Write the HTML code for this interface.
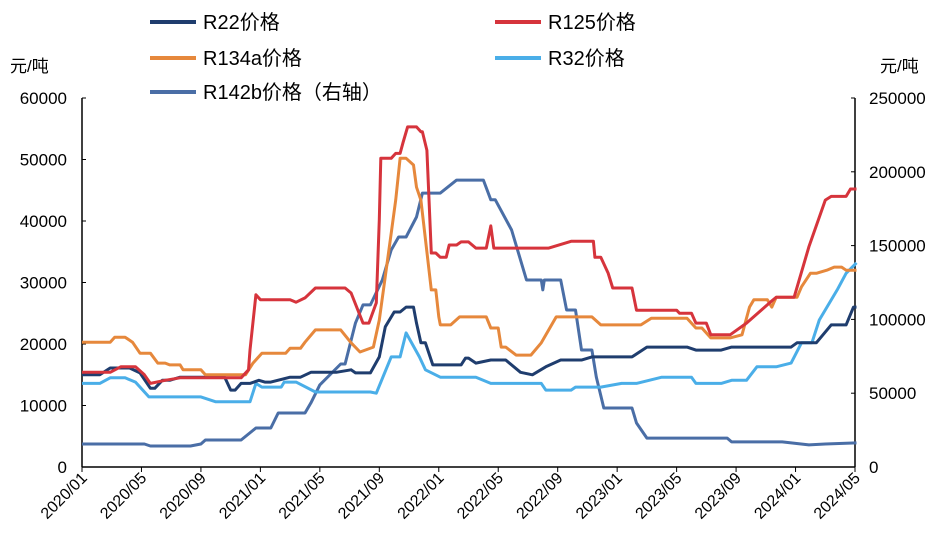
<!DOCTYPE html>
<html><head><meta charset="utf-8"><style>
body{margin:0;background:#fff;}
svg text{font-family:"Liberation Sans","Noto Sans CJK SC",sans-serif;}
</style></head><body>
<svg id="c" width="946" height="555"></svg>
<script>
const xTickLabels=["2020/01","2020/05","2020/09","2021/01","2021/05","2021/09","2022/01","2022/05","2022/09","2023/01","2023/05","2023/09","2024/01","2024/05"];
const leftTicks=[0,10000,20000,30000,40000,50000,60000];
const rightTicks=[0,50000,100000,150000,200000,250000];
const r22=[[0,15000],[1.2,15000],[1.9,16100],[3.2,16100],[3.9,15300],[4.6,12800],[4.9,12800],[5.4,14100],[5.9,14100],[6.6,14600],[9.6,14600],[10,12500],[10.3,12500],[10.7,13600],[11.3,13600],[11.9,14100],[12.3,13800],[12.7,13800],[14,14600],[14.7,14600],[15.4,15400],[17.1,15400],[18.1,15800],[18.4,15300],[19.4,15300],[20,17900],[20.4,22800],[21,25200],[21.4,25200],[21.8,26000],[22.3,26000],[22.5,23400],[22.8,20200],[23.1,20200],[23.6,16600],[25.5,16600],[25.8,17700],[26,17700],[26.5,16900],[27.5,17400],[28.5,17400],[29.5,15400],[30.3,15000],[31.2,16300],[32.2,17400],[33.6,17400],[34.3,17900],[37,17900],[38,19500],[40.7,19500],[41.3,19000],[43,19000],[43.7,19500],[47.7,19500],[48.1,20200],[49.4,20200],[50.4,23100],[51.4,23100],[51.9,26000],[52.1,26000]];
const r125=[[0,15400],[1.9,15400],[2.6,16300],[3.6,16300],[4.2,15000],[4.6,13600],[5.6,14100],[6.6,14500],[10.7,14500],[11.2,15800],[11.3,19000],[11.7,28000],[12,27200],[14,27200],[14.4,26800],[15,27500],[15.7,29100],[17.7,29100],[18.1,28300],[18.9,23400],[19.3,23400],[19.8,26700],[20,40200],[20.1,50200],[20.8,50200],[21.1,51000],[21.4,51000],[21.6,52800],[21.9,55300],[22.5,55300],[22.8,54500],[22.9,54500],[23.2,51500],[23.5,34800],[23.8,34800],[24.1,34100],[24.5,34100],[24.7,36100],[25.2,36100],[25.5,36600],[26,36600],[26.5,35600],[27.2,35600],[27.5,39200],[27.7,35600],[31.4,35600],[32.9,36700],[34.4,36700],[34.5,34100],[34.9,34100],[35.4,31500],[35.7,29100],[37,29100],[37.3,25500],[40,25500],[40.2,25000],[41,25000],[41.3,23400],[42,23400],[42.3,21500],[43.6,21500],[44.7,23400],[46.4,27000],[46.7,27600],[47.9,27600],[48.9,35800],[50,43400],[50.4,44000],[51.4,44000],[51.7,45200],[52.1,45200]];
const r134a=[[0,20300],[1.9,20300],[2.2,21100],[2.9,21100],[3.4,20300],[3.9,18500],[4.6,18500],[5.1,16900],[5.6,16900],[5.9,16600],[6.6,16600],[6.8,15800],[8,15800],[8.3,15000],[11,15000],[11.5,16900],[12.1,18500],[13.7,18500],[14,19300],[14.7,19300],[15,20300],[15.7,22300],[17.4,22300],[18.1,20200],[18.7,18700],[19.6,19500],[20,23900],[20.8,38000],[21.1,43400],[21.4,50200],[21.8,50200],[22.3,49100],[22.5,45500],[22.8,43400],[23.5,28800],[23.8,28800],[24,24400],[24.1,23100],[24.8,23100],[25.4,24400],[27.2,24400],[27.5,22600],[28,22600],[28.2,19500],[28.5,19500],[29.2,18200],[30.2,18200],[30.9,20200],[31.9,24400],[34.3,24400],[34.9,23100],[37.6,23100],[38.3,24200],[40.7,24200],[41.3,22600],[41.7,22600],[42.3,21000],[43.6,21000],[44.4,21500],[44.9,26000],[45.2,27200],[46.1,27200],[46.4,26000],[46.7,27600],[48.1,27600],[48.4,29300],[49,31500],[49.4,31500],[50.1,32000],[50.6,32500],[51.1,32500],[51.4,32000],[52.1,32000]];
const r32=[[0,13600],[1.2,13600],[1.9,14500],[2.9,14500],[3.6,13800],[4.5,11400],[8,11400],[9,10600],[11,10600],[11.3,10600],[11.7,13600],[12.1,13000],[13.4,13000],[13.6,13800],[14.4,13800],[15.7,12200],[19.4,12200],[19.8,12000],[20.8,17900],[21.4,17900],[21.8,21800],[22.7,17900],[23.1,15800],[24.1,14600],[25.5,14600],[26.5,14600],[27.5,13600],[30.9,13600],[31.2,12500],[32.9,12500],[33.2,13000],[34.9,13000],[36.3,13600],[37.3,13600],[39,14600],[41,14600],[41.3,13600],[43,13600],[43.7,14100],[44.7,14100],[45.4,16300],[46.7,16300],[47.7,16900],[48.4,20200],[49.1,20200],[49.6,23900],[50.8,28800],[51.4,31500],[52.1,33200]];
const r142b=[[0,15600],[4.2,15600],[4.6,14200],[7.3,14200],[8,15600],[8.3,18300],[10.7,18300],[11.7,26400],[12.7,26400],[13.2,36600],[15,36600],[15.4,43400],[16,55600],[17.4,69800],[17.7,69800],[18.4,97600],[18.9,109800],[19.4,109800],[20.2,126700],[20.8,147000],[21.3,155800],[21.8,155800],[22.5,169400],[22.9,185600],[24.1,185600],[25.2,194400],[27,194400],[27.5,181000],[27.8,181000],[28.9,160600],[29.9,126700],[30.9,126700],[31,120000],[31.1,126700],[32.2,126700],[32.6,106400],[33.2,106400],[33.6,79300],[34.3,79300],[34.6,61000],[35.1,40000],[37,40000],[37.3,29800],[38,19600],[43.4,19600],[43.7,17000],[47.1,17000],[47.7,16300],[48.9,15000],[50,15600],[52.1,16300]];

const svg=document.getElementById('c');const NS='http://www.w3.org/2000/svg';
const X0=82,X1=855,Y0=467,Y1=98,MONTHS=52;
const xs=m=>X0+m*(X1-X0)/MONTHS;
const yl=v=>Y0-v/60000*(Y0-Y1);
const yr=v=>Y0-v/250000*(Y0-Y1);
function mk(t,a,p){const e=document.createElementNS(NS,t);for(const k in a)e.setAttribute(k,a[k]);(p||svg).appendChild(e);return e;}
let e;
e=mk('line',{x1:X0,y1:Y1,x2:X0,y2:Y0,stroke:'#000','stroke-width':1.5});

e=mk('line',{x1:X1,y1:Y1,x2:X1,y2:Y0,stroke:'#000','stroke-width':1.5});

e=mk('line',{x1:X0,y1:Y0,x2:X1,y2:Y0,stroke:'#000','stroke-width':1.5});

leftTicks.forEach(v=>{mk('line',{x1:X0,x2:X0+4,y1:yl(v),y2:yl(v),stroke:'#000'});
 e=mk('text',{x:X0-15,y:yl(v)+6,'text-anchor':'end','font-size':17});e.textContent=v;
 });
rightTicks.forEach(v=>{mk('line',{x1:X1-4,x2:X1,y1:yr(v),y2:yr(v),stroke:'#000'});
 e=mk('text',{x:X1+14,y:yr(v)+6,'text-anchor':'start','font-size':17});e.textContent=v;
 });
xTickLabels.forEach((s,i)=>{const x=xs(i*4);mk('line',{x1:x,x2:x,y1:Y0,y2:Y0+5,stroke:'#000'});
 e=mk('text',{x:x+6,y:Y0+12,'text-anchor':'end','font-size':16,transform:`rotate(-45 ${x+6} ${Y0+12})`});e.textContent=s;
 });
function series(d,col,ax,name){const pts=d.map(p=>xs(p[0]).toFixed(1)+','+(ax==='r'?yr(p[1]):yl(p[1])).toFixed(1)).join(' ');
 const el=mk('polyline',{points:pts,fill:'none',stroke:col,'stroke-width':3,'stroke-linejoin':'round'});
 }
const C={r22:'#1f3d6e',r125:'#d6343c',r134a:'#e6883c',r32:'#4aaee8',r142b:'#4a6ea6'};
series(r142b,C.r142b,'r','r142b-line');
series(r32,C.r32,'l','r32-line');
series(r22,C.r22,'l','r22-line');
series(r134a,C.r134a,'l','r134a-line');
series(r125,C.r125,'l','r125-line');
function leg(x,y,col,txt,name){mk('line',{x1:x,x2:x+46,y1:y,y2:y,stroke:col,'stroke-width':4});
 e=mk('text',{x:x+53,y:y+7,'font-size':20});e.textContent=txt;
 }
leg(150,22,C.r22,'R22价格','legend-r22');
leg(495,22,C.r125,'R125价格','legend-r125');
leg(150,58,C.r134a,'R134a价格','legend-r134a');
leg(495,58,C.r32,'R32价格','legend-r32');
leg(150,92,C.r142b,'R142b价格（右轴）','legend-r142b');
e=mk('text',{x:10,y:72,'font-size':17});e.textContent='元/吨';

e=mk('text',{x:880,y:72,'font-size':17});e.textContent='元/吨';

</script>
</body></html>
